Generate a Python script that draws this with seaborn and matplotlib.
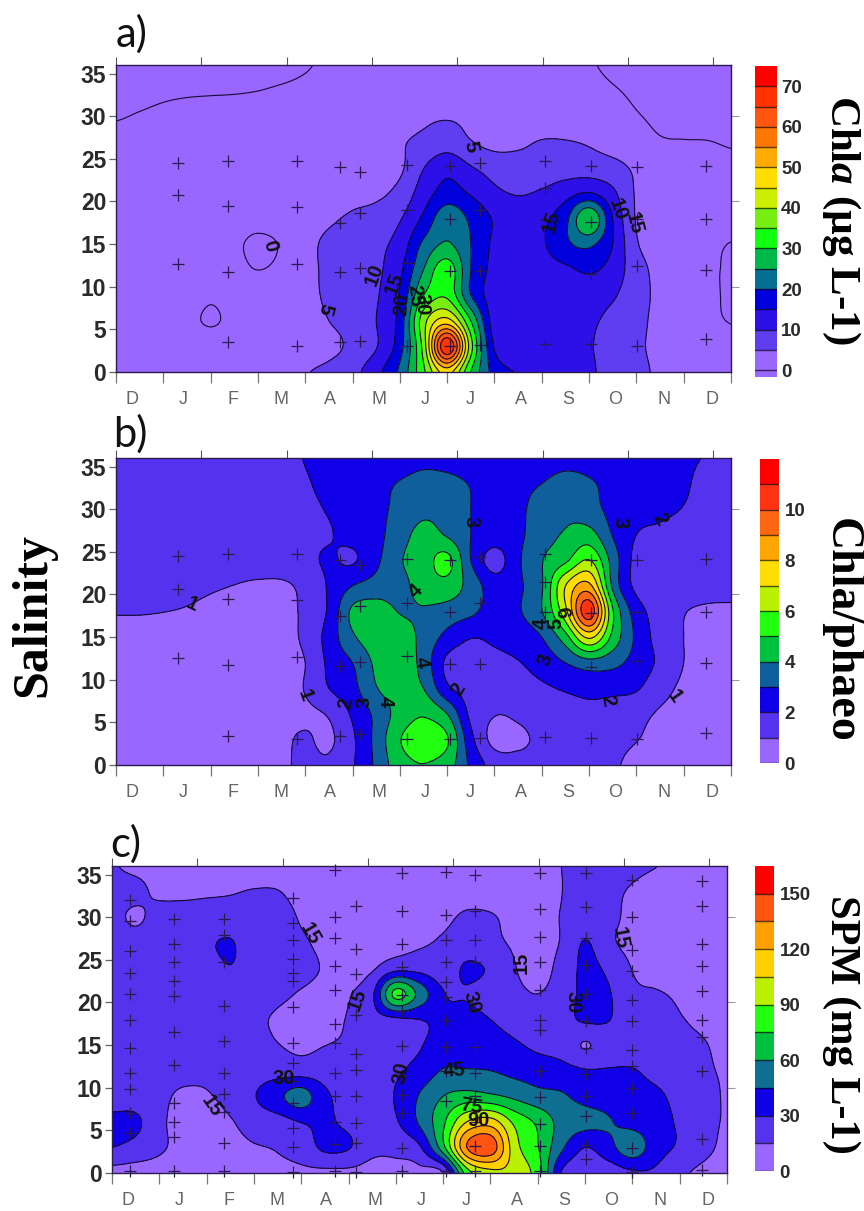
import numpy as np
import matplotlib
matplotlib.use("Agg")
import matplotlib.pyplot as plt
import seaborn as sns

sns.set_style("ticks")
plt.rcParams['font.family'] = ['Liberation Sans', 'DejaVu Sans']
plt.rcParams['mathtext.fontset'] = 'custom'
plt.rcParams['mathtext.it'] = 'Liberation Serif:bold:italic'
plt.rcParams['mathtext.rm'] = 'Liberation Serif:bold'

W, H = 864, 1211

months = ['D', 'J', 'F', 'M', 'A', 'M', 'J', 'J', 'A', 'S', 'O', 'N', 'D']
month_pos = [.33, 1.42, 2.48, 3.49, 4.52, 5.56, 6.54, 7.48, 8.55, 9.55, 10.56, 11.58, 12.6]
grid_x = [i * .5 for i in range(27)]
grid_y = [0, 3, 6, 9, 12, 15, 18, 21, 24, 27, 30, 33, 36]

# ---- a) Chla
A00 = [1.8,1.8,1.8,1.7,1.6,1.6,1.7,2,4.6,6.2,8.5,13.5,21,34,47,30,18,14.5,12,11,10.5,8.5,6.5,4,2.5,1.6,1]
A03 = [2,2,2,1.8,1.5,1.5,1.5,1.7,2,3.5,6.2,9.7,18,37,70,37,14.5,11,10.5,10.2,10.2,8.5,6,3.5,1.7,1.2,.8]
A06 = [2.2,2.1,1.8,.8,-.3,.8,1.8,2,3,5,7,10,17,38,47,30,12.5,11,10.7,10.5,10.5,9,6.5,3.5,1.8,.6,-.1]
A09 = [2.2,2.2,2.1,1.6,.4,1.2,1.8,2,3.5,5.8,7,9.5,15.5,30,34,20,12.5,11,10.5,11,11.5,10.5,7,3.8,2,.8,-.5]
A12 = [2.2,2.2,2.2,2,1.6,.8,-.02,.8,3.5,6,7.5,9,14,25,33,20,13.5,12,12.5,14,15.8,13,7,3.5,1.5,.5,-.3]
A15 = [2,2,1.8,1.5,1.2,.4,-.4,.3,3.5,6,7.5,8.8,12,21,25.5,20,14,12,14.3,19,21,15,5.5,3,1.5,.8,-.1]
A18 = [1.8,1.8,1.8,1.7,1.6,1.2,.8,1.5,3,4.3,5.7,7,9.6,16,23.5,19,14.5,12,13.8,18.5,30,15,4.6,2.8,2,2,1.5]
A21 = [1.5,1.5,1.5,1.6,1.7,1.8,2,2.3,2.6,3,3.5,4,6.5,12.5,17,14.5,11,9.7,10.6,13,15.2,11,4.5,2.5,1.6,1.2,.8]
A24 = [1.3,1.3,1.4,1.5,1.6,1.7,1.8,1.9,2,2.1,2.2,2.8,4.2,9.8,13.5,10.3,8,6.8,6.8,7.5,7.5,6.5,4.2,2.5,1.5,1,.5]
A27 = [.8,1,1.2,1.3,1.4,1.5,1.6,1.7,1.8,2,2.2,2.8,4.5,6,7.5,5.2,3.5,4.2,5.2,5.2,4.5,3,1.5,.3,.1,.05,-.2]
A30 = [-.2,.2,.6,.9,1,1.1,1.2,1.4,1.5,1.7,2,2.5,3.2,4.2,4.6,4,2.8,2.5,2.5,2.3,1.9,1.2,.2,-.5,-.7,-.8,-1]
A33 = [-1.3,-1,-.6,-.4,-.3,-.2,-.02,.3,.6,.9,1.2,1.5,1.8,2.2,2.3,2.1,1.7,1.6,1.5,1.2,.8,.2,-.4,-.8,-1,-1.1,-1.2]
A36 = [-2,-2,-2,-2,-2,-1.5,-1.2,-.8,-.2,.4,.8,1,1.2,1.3,1.3,1.3,1.2,1.1,1,.7,.2,-.4,-.8,-1,-1.2,-1.3,-1.5]

# ---- b) Chla/phaeo
B00 = [.7,.7,.7,.7,.7,.7,.7,.85,1.2,1.15,1.9,3.2,4.6,4.98,4.5,2.8,1.6,1.25,1.3,1.35,1.3,1.1,.8,.7,.6,.55,.5]
B03 = [.7,.7,.7,.65,.65,.65,.7,.85,1.1,.85,1.85,3.3,4.95,5.5,5.1,2.3,.7,.85,1.15,1.3,1.4,1.25,1.03,.75,.6,.6,.6]
B06 = [.7,.7,.7,.65,.65,.65,.7,.8,.85,1.1,2.15,3.25,4.4,4.9,4,1.75,1.05,1.15,1.4,1.6,1.75,1.6,1.3,.9,.7,.65,.6]
B09 = [.7,.7,.65,.6,.6,.6,.6,.7,1.05,2,2.7,3.95,4.4,4,2.2,1.6,1.5,1.6,1.85,2.1,2.3,2.25,2.1,1.35,.85,.8,.7]
B12 = [.7,.7,.65,.6,.6,.55,.55,.7,1,2.2,3,4.2,4.7,3.6,1.8,1.5,1.7,1.95,2.4,3,3.6,3.3,2.6,1.8,1,.8,.7]
B15 = [.75,.7,.7,.7,.7,.6,.5,.7,1.2,2.4,3.85,4.5,4.5,3.7,2.7,2.05,2.2,2.5,3,4.6,7.2,4.7,2.8,1.6,1,.8,.7]
B18 = [1.05,1.05,1.01,.95,.85,.75,.6,.7,1.2,2.15,4.2,4.5,3.95,3.9,3.6,3.2,2.6,2.9,3.95,6.7,10.7,5.1,2.5,1.6,1.05,.85,.85]
B21 = [1.4,1.35,1.3,1.2,1.1,.98,.8,.8,1.3,2.1,3,3.4,3.7,4.4,4.6,3.6,2.5,2.85,3.9,7,8.3,3.8,1.75,1.6,1.5,1.4,1.3]
B24 = [1.6,1.6,1.6,1.6,1.6,1.6,1.7,1.75,1.8,2.1,1.9,2.8,3.9,4.5,5.3,3,1.6,2.85,3.95,4.8,6.05,3.6,1.7,1.6,1.5,1.45,1.4]
B27 = [1.6,1.6,1.6,1.6,1.6,1.6,1.7,1.8,1.85,1.95,2.3,2.7,3.6,4.3,3.9,3,2.5,2.8,3.6,4.1,4.4,2.95,2,1.85,1.7,1.6,1.5]
B30 = [1.6,1.6,1.6,1.6,1.6,1.6,1.7,1.8,1.9,2.05,2.4,2.75,3.25,3.75,3.6,3,2.5,2.8,3.4,3.8,3.4,2.7,2.3,2.15,1.97,1.7,1.5]
B33 = [1.6,1.6,1.6,1.6,1.6,1.6,1.7,1.8,1.95,2.15,2.4,2.75,3.05,3.3,3.25,2.95,2.6,2.75,3,3.3,3.1,2.75,2.5,2.3,2.1,1.75,1.5]
B36 = [1.6,1.6,1.6,1.6,1.6,1.6,1.7,1.85,2.02,2.2,2.3,2.4,2.6,2.8,2.7,2.5,2.3,2.4,2.6,2.75,2.7,2.5,2.3,2.2,2.1,1.95,1.7]

# ---- c) SPM
C00 = [10,9,10,9,9,9,10,13,13,12,12,10,9,11,14,82,100,100,82,29,20,22,28,28,18,12,9]
C03 = [30,25,17,12,11,11,14,16,21,33,31,19,20,28,70,135,145,97,76,48,30,40,54,36,28,19,12]
C06 = [34,33,18,11,11,14,21,24,30.5,32,27,23,28.5,47,72,105,112,87,72,55,50,46,40,35,28,19,14]
C09 = [22,22,18,13,14,19,29,41,52,33,25,24,31,46,60,66,63,57,50,47,40,38,36,33,25,19,14]
C12 = [22,22,20,19,18,20,23,24,23,23,24,25,28,35,46,46,45,41,38,35,31,31,31,25,20,16.5,14]
C15 = [23,23,23,22,22,21,20,15.5,12,14.8,17,20,24,29,36,38,36,32,27,24,14,22,21,19,17,15.5,13]
C18 = [24,25,25,25,25,24,18,13.5,11,11,16,24,27,30,32,34,30,25,22,25,32,30.5,21,18,15.5,13.5,12]
C21 = [24,24,24,24,24,24,22,18,14,12,14,27,80,55,31,29,24,19,15,22,33,31,18,16,13.5,11,10]
C24 = [24,24,24,24,25,29.5,24,24,19,14,11,13.5,25,25,22,32,28,16,9,20,33,27,14.5,10,9,8,7]
C27 = [22,22,22,23,28,31,22,22,17,12,10,10,10,13,17,22,18,13.5,10,16,31,18,11,9,8,8,7]
C30 = [20,12.5,21,21,22,22,23,22,13.5,9,8,8,8,9,12,17,16,12,11,15.5,21,18,12,9,8,7,7]
C33 = [20,19,12,12,13,14,15.8,15.5,10,8,8,8,8,8,9,10,10,10,11,14.8,20,17,14,10,8,7,6]
C36 = [15.8,12,10,9,9,9,9,9,9,9,9,9,9,9,9,9,9,10,13,15,18,18,17,15.2,12,10,8]

# ---- sampling stations: (x, [salinities])
st_ab_x = [1.32, 2.37, 3.82, 4.74, 5.16, 6.15, 7.07, 7.70, 9.06, 10.05, 11.01, 12.48]
st_a_y = [[24.5,20.7,12.7],[24.8,19.5,11.7,3.5],[24.8,19.4,12.7,3],[24,17.5,11.7,3.5],[23.4,18.7,12.2,3.6],
          [24.3,19,12.8,3],[24.2,18,11.9,3],[24.5,19,11.8,3.2],[24.8,21.6,18,3.3],[24.2,17.6,11.5,3.3],
          [24,18,12.4,3],[24.2,18,12,3.9]]
st_b_y = [[24.5,20.6,12.6],[24.8,19.5,11.7,3.4],[24.8,19.4,12.7,3],[24,17.5,11.6,3.4],[23.4,18.6,12.1,3.6],
          [24.2,19,12.8,3],[24,18,11.8,3],[24.4,19,11.8,3.2],[24.8,21.5,18,3.3],[24,17.8,11.5,3.2],
          [24,18,12.2,3],[24.2,18,12,3.8]]
st_c_x = [.38, 1.30, 2.36, 3.82, 4.72, 5.15, 6.14, 7.07, 7.68, 9.04, 10.03, 10.99, 12.48]
st_c_y = [[32,29.5,26,23.5,21,18,14.7,11.7,9.8,7,4.7,.2],
          [29.8,26.8,24.7,22.5,20.7,16.5,12.7,8.2,6,4.2,.2],
          [29.8,27.9,24.8,19.6,15.5,11.7,9.3,7.2,3.5,.2],
          [32.2,29.3,27.3,25.1,23.5,22.5,19.5,15.3,12.9,10.8,8.2,5.3,3.1,.1],
          [35.5,30,27.5,24.3,21.5,17.5,15.2,11.7,9,6,3.4,.2],
          [31.3,26.3,23.3,18.5,14,12.1,9,5.9,3.5,.1],
          [35.2,30.7,26.8,24.2,20.9,19,14.9,11.5,9.2,7,2.9,.2],
          [35.3,30.3,27.3,24.8,22.4,20.6,18,14.8,12,8.5,.2],
          [35,30.7,27.3,24.7,19,14.8,11.7,9,6,3.2,.2],
          [35.2,31,27.7,24.7,21.5,18,16.8,12,8.9,5.8,3.2,.2],
          [35.2,31.2,27.5,24.4,21,17.8,14.7,11.6,9,6.7,3.3,1.7],
          [34.4,30,26.2,23.7,20.3,17.8,14.4,12.5,10,7,2.9,.1],
          [34.2,31.3,26.9,24.3,21.3,18,16,12,4,.4]]

# ---- band colours
pal_a = ['#9966ff','#5f3df0','#2d10e8','#0000dd','#056f92','#00b848','#11ff11','#77ee11','#ccee00','#ffdd00',
         '#ffaa00','#ff7700','#ff5511','#ff3300','#ff0000']
pal_b = ['#9966ff','#5533ee','#0f00e8','#0f5f9c','#00c040','#22ff11','#bbf000','#ffdd00','#ffa500','#ff6611',
         '#ff3311','#ff0000']
pal_c = ['#9966ff','#5533ee','#0f00e8','#0f6f92','#00c040','#22ff11','#bbf000','#ffd000','#ffa000','#ff5511','#ff0000']

levels_a = list(range(0, 80, 5))
levels_b = list(range(0, 13))
levels_c = list(range(0, 180, 15))

# label text, x, salinity, rotation
labels_a = [('0',3.26,14.8,-75),('5',7.5,26.4,-80),('5',4.42,7.4,-105),('10',5.47,11.4,70),('15',5.88,10.4,70),
            ('20',6.05,7.9,85),('25',6.32,9,-85),('30',6.47,7.9,-90),
            ('15',9.2,17.6,75),('10',10.6,19,-70),('15',10.94,17.4,-75)]
labels_b = [('1',1.6,18.8,-25),('1',4.0,8.2,-70),('2',4.85,7.2,80),('3',5.24,7.4,90),('4',5.7,7.4,-90),
            ('4',6.34,20.4,45),('4',6.44,12,-80),('2',7.24,8.9,60),('3',7.5,28.5,-90),('3',10.65,28.4,-90),
            ('2',11.5,28.8,-60),('6',9.43,17.9,-80),('4',8.98,16.6,90),('5',9.3,16.6,90),('3',9.08,12.3,70),
            ('2',10.4,7.6,-80),('1',11.8,8,-55)]
labels_c = [('15',4.18,28,-60),('15',2.1,7.9,-55),('30',3.63,11.1,0),('15',5.18,20.3,70),('30',6.11,11.7,80),
            ('45',7.24,12,5),('75',7.6,7.75,-10),('90',7.74,6.2,0),('30',7.6,20,-75),('15',8.66,24.7,90),
            ('30',9.74,20,-90),('15',10.73,27.5,-80)]

cbar_ticks_a = [0,10,20,30,40,50,60,70]
cbar_ticks_b = [0,2,4,6,8,10]
cbar_ticks_c = [0,30,60,90,120,150]


def cr_up(v, factor, axis):
    """Catmull-Rom refinement of a uniform grid so contour lines are drawn smooth."""
    v = np.moveaxis(v, axis, 0)
    n = v.shape[0]
    u = np.linspace(0, n - 1, (n - 1) * factor + 1)
    i = np.minimum(u.astype(int), n - 2)
    t = (u - i).reshape((-1,) + (1,) * (v.ndim - 1))
    p0, p1, p2, p3 = v[np.maximum(i - 1, 0)], v[i], v[i + 1], v[np.minimum(i + 2, n - 1)]
    out = .5 * (2 * p1 + (p2 - p0) * t + (2 * p0 - 5 * p1 + 4 * p2 - p3) * t ** 2 + (3 * p1 - p0 - 3 * p2 + p3) * t ** 3)
    return np.moveaxis(out, 0, axis)


def px_axes(fig, l, t, r, b):
    return fig.add_axes([l / W, 1 - b / H, (r - l) / W, (b - t) / H])


def panel(fig, box, cbox, rows, pal, levels, st_x, st_y, labels, cticks, cmin, cpad):
    ax = px_axes(fig, *box)
    Z = np.array(rows, float)
    Zf = cr_up(cr_up(Z, 8, 0), 8, 1)
    xf = np.linspace(grid_x[0], grid_x[-1], Zf.shape[1])
    yf = np.linspace(grid_y[0], grid_y[-1], Zf.shape[0])
    colors = sns.color_palette(pal, len(pal))
    ax.contourf(xf, yf, Zf, levels=levels, colors=[colors[0]] + list(colors), extend='min')
    ax.contour(xf, yf, Zf, levels=levels, colors='#150a30', linewidths=.8)
    xs = [x for x, ys in zip(st_x, st_y) for _ in ys]
    ys_ = [y for ys in st_y for y in ys]
    sns.scatterplot(x=xs, y=ys_, marker='+', s=70, color='#2a1a50', linewidth=.9, ax=ax, legend=False, zorder=5, clip_on=False)
    for s, x, y, r in labels:
        ax.text(x, y, s, rotation=r, ha='center', va='center', fontsize=14.5, fontweight='bold', color='#111', zorder=6)
    ax.set_xlim(0, 13)
    ax.set_ylim(0, 36)
    ax.set_yticks(range(0, 40, 5))
    ax.set_xticks(range(0, 14))
    ax.set_xticklabels([])
    ax.set_xticks(month_pos, months, minor=True)
    ax.tick_params(axis='x', which='minor', length=0, pad=14, labelsize=13, labelcolor='#666666')
    ax.tick_params(axis='x', which='major', length=8, width=.9, color='#777777')
    ax.tick_params(axis='y', length=5, width=.9, color='#666666', labelsize=16.5, labelcolor='#2a2a2a', pad=2)
    for t in ax.get_yticklabels():
        t.set_fontweight('bold')
    top = ax.secondary_xaxis('top')
    top.set_xticks([i * 1.804 for i in range(8)])
    top.set_xticklabels([])
    top.tick_params(length=6, width=.8, color='#555555')
    top.spines['top'].set_visible(False)
    right = ax.secondary_yaxis('right')
    right.set_yticks([10, 20, 30])
    right.set_yticklabels([])
    right.tick_params(length=6, width=.8, color='#999999')
    right.spines['right'].set_visible(False)
    for sp in ax.spines.values():
        sp.set_color('#2a1a50')
        sp.set_linewidth(1.0)
    # colour key
    cax = px_axes(fig, *cbox)
    edges = [cmin] + levels[1:]
    cax.pcolormesh([0, 1], edges, np.arange(len(pal)).reshape(-1, 1),
                   cmap=matplotlib.colors.ListedColormap(colors), shading='flat')
    for lv in levels[:-1]:
        cax.axhline(lv, color='black', alpha=.65, lw=1.0)
    cax.set_xticks([])
    cax.yaxis.tick_right()
    cax.set_yticks(cticks)
    cax.tick_params(axis='y', length=0, pad=cpad, labelsize=13.5, labelcolor='#2a2a2a')
    for t in cax.get_yticklabels():
        t.set_fontweight('bold')
    cax.set_xlim(0, 1)
    cax.set_ylim(cmin, levels[-1])
    for sp in cax.spines.values():
        sp.set_visible(False)
    return ax


fig = plt.figure(figsize=(W / 100, H / 100), dpi=100)
rows_a = [A00,A03,A06,A09,A12,A15,A18,A21,A24,A27,A30,A33,A36]
rows_b = [B00,B03,B06,B09,B12,B15,B18,B21,B24,B27,B30,B33,B36]
rows_c = [C00,C03,C06,C09,C12,C15,C18,C21,C24,C27,C30,C33,C36]
panel(fig, (116, 65, 731, 372), (755, 66, 777, 377), rows_a, pal_a, levels_a, st_ab_x, st_a_y, labels_a, cbar_ticks_a, -1.7, 3)
panel(fig, (116, 458, 731, 765), (760, 459, 779, 763), rows_b, pal_b, levels_b, st_ab_x, st_b_y, labels_b, cbar_ticks_b, 0, 4)
panel(fig, (112, 866, 727, 1173), (755, 866, 774, 1171), rows_c, pal_c, levels_c, st_c_x, st_c_y, labels_c, cbar_ticks_c, 0, 4)

serif = dict(family='Liberation Serif', fontweight='bold', color='black', ha='center', va='center')
fig.text(841 / W, 1 - 220 / H, 'Chl$\\mathit{a}$ (µg L-1)', rotation=270, fontsize=31, **serif)
fig.text(841 / W, 1 - 630 / H, 'Chla/phaeo', rotation=270, fontsize=33, **serif)
fig.text(841 / W, 1 - 1024 / H, 'SPM (mg L-1)', rotation=270, fontsize=30.5, **serif)
fig.text(33 / W, 1 - 615 / H, 'Salinity', rotation=90, fontsize=36, **serif)
for s, x, y in [('a)', 116, 34), ('b)', 113, 434), ('c)', 110, 844)]:
    fig.text(x / W, 1 - y / H, s, family='Lato', fontsize=30, ha='left', va='center', color='#111111')

fig.savefig('out.png', dpi=100)
